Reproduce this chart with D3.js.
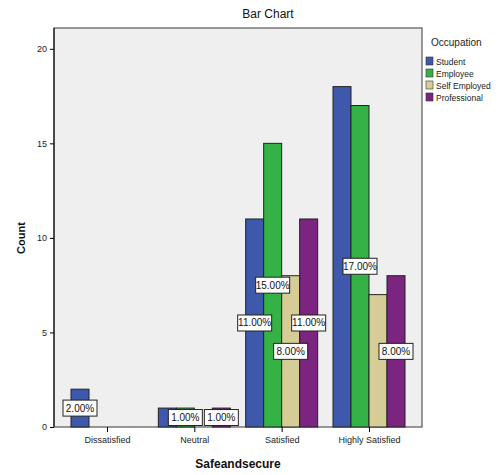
<!DOCTYPE html>
<html><head><meta charset="utf-8">
<script src="https://cdn.jsdelivr.net/npm/d3@7"></script>
<style>body{margin:0;background:#fff;font-family:"Liberation Sans",Arial,sans-serif}</style>
</head><body><svg id="c" width="499" height="475"></svg>
<script>
const categories = ["Dissatisfied","Neutral","Satisfied","Highly Satisfied"];
const series = ["Student","Employee","Self Employed","Professional"];
const student      = [2, 1, 11, 18];
const employee     = [0, 1, 15, 17];
const selfEmployed = [0, 0, 8, 7];
const professional = [0, 1, 11, 8];
const yTicks = [0, 5, 10, 15, 20];
// which labels are shown (SPSS hides overlapping ones): [categoryIndex, seriesIndex]
const shownLabels = [[0,0],[1,1],[1,3],[2,0],[2,1],[2,2],[2,3],[3,1],[3,3]];
const total = 100;
const colors = ["#3e58ac","#35b246","#d5cd95","#7b2581"];

const values = [student, employee, selfEmployed, professional];
const svg = d3.select("#c");
const L = 54, R = 422, T = 28, B = 427;

svg.append("rect").attr("x",L).attr("y",T).attr("width",R-L).attr("height",B-T)
  .attr("fill","#efefef").attr("stroke","#555").attr("stroke-width",1.2);

const x0 = d3.scaleBand().domain(categories).range([L+9, R-9]).paddingInner(0.18).paddingOuter(0.0);
const x1 = d3.scaleBand().domain(series).range([0, x0.bandwidth()]);
const y = d3.scaleLinear().domain([0, 21.1]).range([B, T]);

// adjust x0 so group width ~72 and centers at ~107,193,282,369
const groupW = 72;
const xc = d3.scalePoint().domain(categories).range([107, 369]);
x1.range([0, groupW]);

const data = [];
categories.forEach((c,i)=>series.forEach((s,j)=>data.push({c,s,i,j,v:values[j][i]})));

svg.append("g").selectAll("rect").data(data.filter(d=>d.v>0)).join("rect")
  .attr("x",d=>xc(d.c)-groupW/2+x1(d.s))
  .attr("y",d=>y(d.v))
  .attr("width",x1.bandwidth())
  .attr("height",d=>y(0)-y(d.v))
  .attr("fill",d=>colors[d.j])
  .attr("stroke","#222").attr("stroke-width",1);

// labels
const lg = svg.append("g");
shownLabels.forEach(([i,j])=>{
  const v = values[j][i];
  const cx = xc(categories[i])-groupW/2+x1(series[j])+x1.bandwidth()/2;
  const cy = y(v/2);
  const txt = (v/total*100).toFixed(2)+"%";
  lg.append("rect").attr("x",cx-17).attr("y",cy-8).attr("width",34).attr("height",16)
    .attr("fill","#fff").attr("stroke","#222").attr("stroke-width",1);
  lg.append("text").attr("x",cx).attr("y",cy+3.5).attr("text-anchor","middle")
    .attr("font-size",10).attr("fill","#111").text(txt);
});

// y axis
const yAxis = d3.axisLeft(y).tickValues(yTicks).tickSize(4).tickFormat(d3.format("d"));
const ya = svg.append("g").attr("transform",`translate(${L},0)`).call(yAxis);
ya.select(".domain").attr("stroke","#000").attr("d",`M0,${T}V${B}`);
ya.selectAll("text").attr("font-size",9).attr("fill","#222").attr("font-family","Liberation Sans, Arial");

// x axis
const xAxis = d3.axisBottom(xc).tickSize(5).tickSizeOuter(0);
const xa = svg.append("g").attr("transform",`translate(0,${B})`).call(xAxis);
xa.select(".domain").remove();
xa.selectAll("text").attr("font-size",9).attr("fill","#222").attr("dy","0.9em").attr("font-family","Liberation Sans, Arial");

// titles
svg.append("text").attr("x",268).attr("y",18).attr("text-anchor","middle")
  .attr("font-size",12).attr("fill","#111").text("Bar Chart");
svg.append("text").attr("x",238).attr("y",468).attr("text-anchor","middle")
  .attr("font-size",12).attr("font-weight","bold").attr("fill","#111").text("Safeandsecure");
svg.append("text").attr("transform","translate(25,238) rotate(-90)").attr("text-anchor","middle")
  .attr("font-size",11).attr("font-weight","bold").attr("fill","#111").text("Count");

// legend
const leg = svg.append("g");
leg.append("text").attr("x",431).attr("y",46).attr("font-size",10).attr("fill","#222").text("Occupation");
series.forEach((s,j)=>{
  leg.append("rect").attr("x",426).attr("y",57+j*12).attr("width",7).attr("height",8)
    .attr("fill",colors[j]).attr("stroke","#333").attr("stroke-width",0.6);
  leg.append("text").attr("x",436).attr("y",64.5+j*12).attr("font-size",8.5).attr("fill","#222").text(s);
});
</script></body></html>
